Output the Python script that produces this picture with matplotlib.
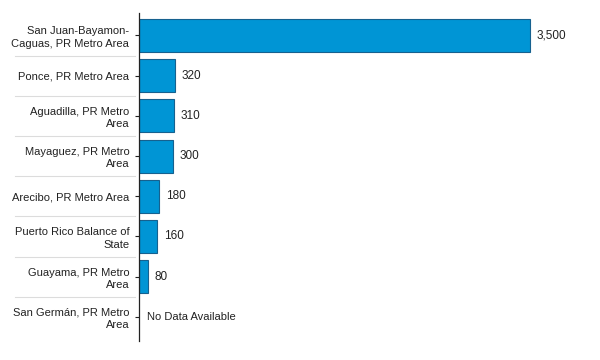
import numpy as np
import matplotlib
matplotlib.use("Agg")
import matplotlib.pyplot as plt

# ---- data ----
areas = [
    "San Juan-Bayamon-\nCaguas, PR Metro Area",
    "Ponce, PR Metro Area",
    "Aguadilla, PR Metro\nArea",
    "Mayaguez, PR Metro\nArea",
    "Arecibo, PR Metro Area",
    "Puerto Rico Balance of\nState",
    "Guayama, PR Metro\nArea",
    "San Germán, PR Metro\nArea",
]
values = [3500, 320, 310, 300, 180, 160, 80, None]

plt.rcParams['font.family'] = ['Liberation Sans', 'DejaVu Sans']

fig = plt.figure(figsize=(6, 3.6), dpi=100)
ax = fig.add_axes([0.2317, 0.053, 0.75, 0.911])

y = np.arange(len(areas))
vals = np.array([v if v is not None else 0 for v in values], dtype=float)
has = np.array([v is not None for v in values])

ax.barh(y[has], vals[has], height=0.82, color='#0095d5',
        edgecolor='#16618f', linewidth=0.8)

# value labels
for yi, v in zip(y, values):
    if v is None:
        ax.annotate("No Data Available", (0, yi), xytext=(6, 0),
                    textcoords='offset points', va='center', ha='left',
                    fontsize=8, color='#222222')
    else:
        ax.annotate(f"{v:,}", (v, yi), xytext=(5, 0),
                    textcoords='offset points', va='center', ha='left',
                    fontsize=8.5, color='#222222')

# row separators on the label side
for yi in y[:-1] + 0.5:
    ax.plot([-0.275, -0.01], [yi, yi], transform=ax.get_yaxis_transform(),
            color='#dcdcdc', linewidth=0.8, clip_on=False)

ax.set_yticks(y)
ax.set_yticklabels(areas, fontsize=8, color='#222222', ha='right',
                   linespacing=1.3)
ax.tick_params(axis='y', length=3, width=0.8, pad=4, color='#222222')
ax.set_ylim(7.6, -0.56)
ax.set_xlim(0, 4030)
ax.set_xticks([])

for s in ['top', 'right', 'bottom']:
    ax.spines[s].set_visible(False)
ax.spines['left'].set_linewidth(0.9)
ax.spines['left'].set_color('#222222')

fig.savefig("out.png", dpi=100)
